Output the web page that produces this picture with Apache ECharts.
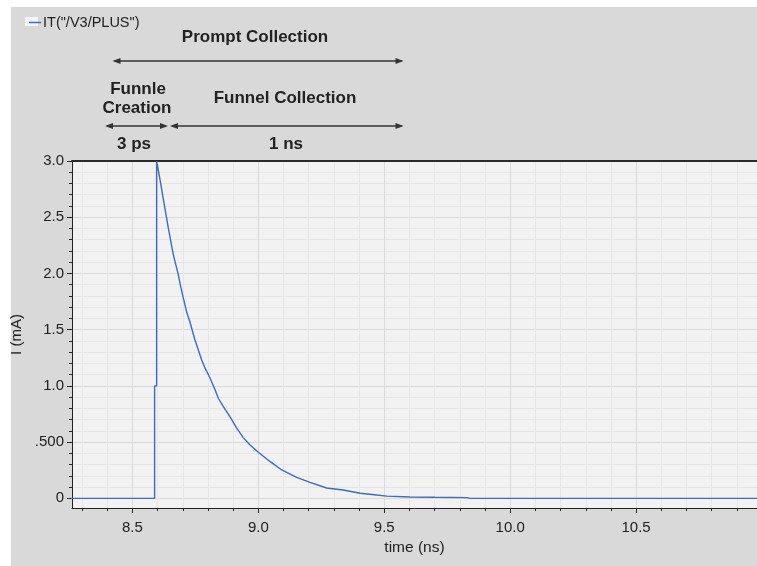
<!DOCTYPE html>
<html>
<head>
<meta charset="utf-8">
<script src="https://cdn.jsdelivr.net/npm/echarts@6/dist/echarts.min.js"></script>
<style>
  html, body { margin: 0; padding: 0; background: #ffffff; }
  #panel { position: absolute; left: 11px; top: 7px; width: 746px; height: 559px; background: #d9d9d9; }
  #chart { position: absolute; left: 0; top: 0; width: 757px; height: 566px; }
</style>
</head>
<body>
<div id="panel"></div>
<div id="chart"></div>
<script>
// ---- data ----
const seriesName = 'IT("/V3/PLUS")';
const timeNs = [8.25, 8.588, 8.588, 8.596, 8.596, 8.599, 8.609, 8.622, 8.642, 8.652, 8.662, 8.682,
  8.691, 8.702, 8.715, 8.728, 8.748, 8.775, 8.788, 8.808, 8.828, 8.841, 8.861, 8.887, 8.914,
  8.940, 8.967, 9.000, 9.047, 9.093, 9.152, 9.205, 9.271, 9.337,
  9.404, 9.470, 9.510, 9.602, 9.700, 9.828, 9.841, 11.0];
const currentMA = [0, 0, 1.0, 1.0, 3.0, 2.99, 2.84, 2.67, 2.41, 2.29, 2.17, 1.99,
  1.89, 1.78, 1.66, 1.57, 1.41, 1.23, 1.16, 1.07, 0.965, 0.89, 0.816, 0.727, 0.625,
  0.540, 0.475, 0.41, 0.326, 0.252, 0.187, 0.142, 0.092, 0.074,
  0.045, 0.029, 0.02, 0.012, 0.009, 0.006, 0, 0];

const xMajorTicks = [8.5, 9.0, 9.5, 10.0, 10.5];
const xTickLabels = ['8.5', '9.0', '9.5', '10.0', '10.5'];
const yMajorTicks = [0, 0.5, 1.0, 1.5, 2.0, 2.5, 3.0];
const yTickLabels = ['0', '.500', '1.0', '1.5', '2.0', '2.5', '3.0'];
const xMinorTicks = [8.3, 8.4, 8.5, 8.6, 8.7, 8.8, 8.9, 9.0, 9.1, 9.2, 9.3, 9.4, 9.5, 9.6, 9.7, 9.8, 9.9,
  10.0, 10.1, 10.2, 10.3, 10.4, 10.5, 10.6, 10.7, 10.8, 10.9];
const yMinorTicks = [0, 0.1, 0.2, 0.3, 0.4, 0.5, 0.6, 0.7, 0.8, 0.9, 1.0, 1.1, 1.2, 1.3, 1.4, 1.5,
  1.6, 1.7, 1.8, 1.9, 2.0, 2.1, 2.2, 2.3, 2.4, 2.5, 2.6, 2.7, 2.8, 2.9, 3.0];

const X_MIN = 8.26, X_MAX = 10.98;
const Y_MIN = -0.086, Y_MAX = 3.0;

// ---- styling ----
const FONT = '"Liberation Sans", Arial, sans-serif';
const AXIS_COLOR = '#222222';
const TEXT_COLOR = '#222222';
const LINE_COLOR = '#3b6cc4';

function labelFor(ticks, labels) {
  return function (v) {
    for (let i = 0; i < ticks.length; i++) {
      if (Math.abs(ticks[i] - v) < 1e-6) return labels[i];
    }
    return '';
  };
}

const chart = echarts.init(document.getElementById('chart'), null, { renderer: 'canvas' });

const annFont = 'bold 17px ' + FONT;
function txt(text, x, y) {
  return { type: 'text', x: x, y: y, z: 100,
    style: { text: text, font: annFont, fill: TEXT_COLOR, align: 'center', verticalAlign: 'middle' } };
}
function arrow(x1, x2, y) {
  const hl = 8, hh = 3;
  return [
    { type: 'line', z: 100, shape: { x1: x1 + 2, y1: y, x2: x2 - 2, y2: y }, style: { stroke: '#333', lineWidth: 1.5 } },
    { type: 'polygon', z: 100, shape: { points: [[x1, y], [x1 + hl, y - hh], [x1 + hl, y + hh]] }, style: { fill: '#333' } },
    { type: 'polygon', z: 100, shape: { points: [[x2, y], [x2 - hl, y - hh], [x2 - hl, y + hh]] }, style: { fill: '#333' } }
  ];
}

const graphics = [].concat(
  [{ type: 'rect', z: 1, shape: { x: 25, y: 17, width: 13, height: 9 }, style: { fill: '#f4f6fa' } }],
  [txt('Prompt Collection', 255, 37)],
  arrow(112.5, 403.5, 61),
  [txt('Funnle', 138, 89), txt('Creation', 137, 108), txt('Funnel Collection', 285, 98)],
  arrow(105, 168, 126),
  arrow(170, 403.5, 126),
  [txt('3 ps', 134, 144), txt('1 ns', 286, 144)]
);

const option = {
  animation: false,
  backgroundColor: 'transparent',
  textStyle: { fontFamily: FONT },
  legend: {
    show: true, left: 24, top: 10, z: 120,
    icon: 'rect', itemWidth: 12, itemHeight: 1.5, itemGap: 10,
    textStyle: { fontSize: 14.5, color: TEXT_COLOR, fontFamily: FONT, padding: [0, 0, 0, -3] },
    data: [seriesName]
  },
  grid: {
    left: 72, top: 161, right: 0, bottom: 58,
    show: true, backgroundColor: '#f2f2f2', borderWidth: 0
  },
  xAxis: [
    {
      type: 'value', min: X_MIN, max: X_MAX, position: 'bottom',
      axisLine: { show: true, onZero: false, lineStyle: { color: AXIS_COLOR, width: 1 } },
      axisTick: { show: true, customValues: xMinorTicks, length: 3, lineStyle: { color: AXIS_COLOR } },
      axisLabel: { show: false },
      splitLine: { show: true, lineStyle: { color: '#e6e6e6', width: 1 } }
    },
    {
      type: 'value', min: X_MIN, max: X_MAX, position: 'bottom',
      axisLine: { show: false, onZero: false },
      axisTick: { show: true, customValues: xMajorTicks, length: 5, lineStyle: { color: AXIS_COLOR } },
      axisLabel: { show: true, customValues: xMajorTicks, formatter: labelFor(xMajorTicks, xTickLabels),
        fontSize: 15, color: TEXT_COLOR, margin: 12, fontFamily: FONT },
      splitLine: { show: true, lineStyle: { color: '#dadada', width: 1 } },
      name: 'time (ns)', nameLocation: 'middle', nameGap: 31,
      nameTextStyle: { fontSize: 15.5, color: TEXT_COLOR, fontFamily: FONT }
    },
    {
      type: 'value', min: X_MIN, max: X_MAX, position: 'top',
      axisLine: { show: true, onZero: false, lineStyle: { color: '#2a2a2a', width: 2 } },
      axisTick: { show: false }, axisLabel: { show: false }, splitLine: { show: false }
    }
  ],
  yAxis: [
    {
      type: 'value', min: Y_MIN, max: Y_MAX, position: 'left',
      axisLine: { show: true, onZero: false, lineStyle: { color: AXIS_COLOR, width: 1 } },
      axisTick: { show: true, customValues: yMinorTicks, length: 3, lineStyle: { color: AXIS_COLOR } },
      axisLabel: { show: false },
      splitLine: { show: true, lineStyle: { color: '#e6e6e6', width: 1 } }
    },
    {
      type: 'value', min: Y_MIN, max: Y_MAX, position: 'left',
      axisLine: { show: false, onZero: false },
      axisTick: { show: true, customValues: yMajorTicks, length: 5, lineStyle: { color: AXIS_COLOR } },
      axisLabel: { show: true, customValues: yMajorTicks, formatter: labelFor(yMajorTicks, yTickLabels),
        fontSize: 15, color: TEXT_COLOR, margin: 8, fontFamily: FONT },
      splitLine: { show: true, lineStyle: { color: '#dadada', width: 1 } },
      name: 'I (mA)', nameLocation: 'middle', nameGap: 41,
      nameTextStyle: { fontSize: 15, color: TEXT_COLOR, fontFamily: FONT }
    }
  ],
  series: [
    {
      name: seriesName, type: 'line', xAxisIndex: 0, yAxisIndex: 0,
      data: timeNs.map((t, i) => [t, currentMA[i]]),
      showSymbol: false, symbol: 'none', clip: true,
      lineStyle: { color: LINE_COLOR, width: 1.4 },
      itemStyle: { color: LINE_COLOR }
    }
  ],
  graphic: graphics
};

chart.setOption(option);
</script>
</body>
</html>
